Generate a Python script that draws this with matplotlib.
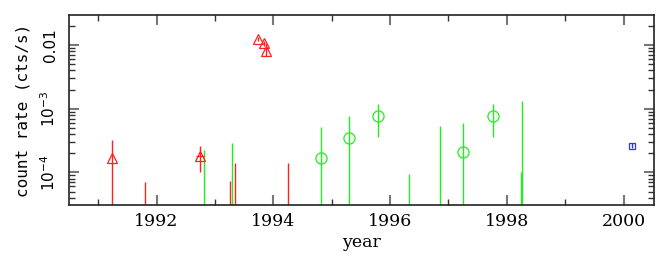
import numpy as np
import matplotlib
matplotlib.use("Agg")
import matplotlib.pyplot as plt
from matplotlib.ticker import FixedLocator, MultipleLocator, NullFormatter

# red triangles with error bars
red_x = [1991.23, 1992.74, 1993.74, 1993.84, 1993.87]
red_y = [1.66e-4, 1.83e-4, 1.24e-2, 1.06e-2, 8.05e-3]
red_lo = [1e-6, 1.03e-4, 1.15e-2, 9.8e-3, 6.8e-3]
red_hi = [3.23e-4, 2.62e-4, 1.33e-2, 1.14e-2, 1.07e-2]
red_xerr = [0.0, 0.07, 0.0, 0.0, 0.0]

# red bars without a point (value below plot)
redbar_x = [1991.80, 1993.26, 1993.34, 1994.25]
redbar_hi = [7.0e-5, 7.3e-5, 1.39e-4, 1.39e-4]

# green circles with error bars
grn_x = [1994.81, 1995.29, 1995.79, 1997.25, 1997.76]
grn_y = [1.66e-4, 3.5e-4, 7.67e-4, 2.06e-4, 7.67e-4]
grn_lo = [1e-6, 1e-6, 3.56e-4, 1e-6, 3.56e-4]
grn_hi = [5.2e-4, 7.67e-4, 1.19e-3, 5.9e-4, 1.19e-3]

# green bars without a point
grnbar_x = [1992.81, 1993.29, 1996.33, 1996.86, 1998.24, 1998.26]
grnbar_hi = [2.25e-4, 2.93e-4, 9.4e-5, 5.35e-4, 1.0e-4, 1.32e-3]

# blue square
blu_x = [2000.15]
blu_y = [2.6e-4]
blu_lo = [2.4e-4]
blu_hi = [2.85e-4]

ytick_vals = [1e-4, 1e-3, 1e-2]
ytick_labels = [r"$10^{-4}$", r"$10^{-3}$", "0.01"]
xtick_vals = [1992, 1994, 1996, 1998, 2000]

RED = "#ff2020"
GRN = "#22ee22"
BLU = "#3030ff"
FLOOR = 1e-6

fig = plt.figure(figsize=(6.67, 2.61), dpi=100)
ax = fig.add_axes([0.1034, 0.2146, 0.8771, 0.7279])
ax.set_yscale("log")
ax.set_xlim(1990.5, 2000.52)
ax.set_ylim(3.07e-5, 2.96e-2)

# bars with no points
ax.vlines(redbar_x, FLOOR, redbar_hi, color=RED, lw=1.0)
ax.vlines(grnbar_x, FLOOR, grnbar_hi, color=GRN, lw=1.0)

# red triangles
ry = np.array(red_y)
ax.errorbar(red_x, red_y, yerr=[ry - np.array(red_lo), np.array(red_hi) - ry],
            xerr=red_xerr, fmt="^", mfc="none", mec=RED, ecolor=RED,
            ms=7, mew=0.9, elinewidth=1.0, capsize=0)

gy = np.array(grn_y)
ax.errorbar(grn_x, grn_y, yerr=[gy - np.array(grn_lo), np.array(grn_hi) - gy],
            fmt="o", mfc="none", mec=GRN, ecolor=GRN,
            ms=8, mew=0.9, elinewidth=1.0, capsize=0)

by = np.array(blu_y)
ax.errorbar(blu_x, blu_y, yerr=[by - np.array(blu_lo), np.array(blu_hi) - by],
            fmt="s", mfc="none", mec=BLU, ecolor=BLU,
            ms=5, mew=0.9, elinewidth=1.0, capsize=0)

for s in ax.spines.values():
    s.set_color("#222222")
    s.set_linewidth(1.2)

ax.xaxis.set_major_locator(FixedLocator(xtick_vals))
ax.xaxis.set_minor_locator(MultipleLocator(1))
ax.yaxis.set_major_locator(FixedLocator(ytick_vals))
ax.yaxis.set_minor_locator(FixedLocator(
    [m * 10.0 ** e for e in (-5, -4, -3, -2) for m in range(2, 10)]))
ax.yaxis.set_minor_formatter(NullFormatter())
ax.set_xticklabels([str(v) for v in xtick_vals], family="DejaVu Serif", fontsize=12.5)
ax.set_yticklabels(ytick_labels, rotation=90, va="center", fontsize=11)

ax.tick_params(which="both", direction="in", top=True, right=True, color="#333333")
ax.tick_params(which="major", length=7, width=1.5, color="#777777")
ax.tick_params(axis="x", which="major", pad=6)
ax.tick_params(axis="y", which="major", pad=8)
ax.tick_params(which="minor", length=4, width=1.0)

ax.set_xlabel("year", family="DejaVu Serif", fontsize=12.5, labelpad=3)
ax.set_ylabel("count rate (cts/s)", family="DejaVu Sans Mono", fontsize=11.5, labelpad=6)

fig.savefig("out.png", dpi=100)
